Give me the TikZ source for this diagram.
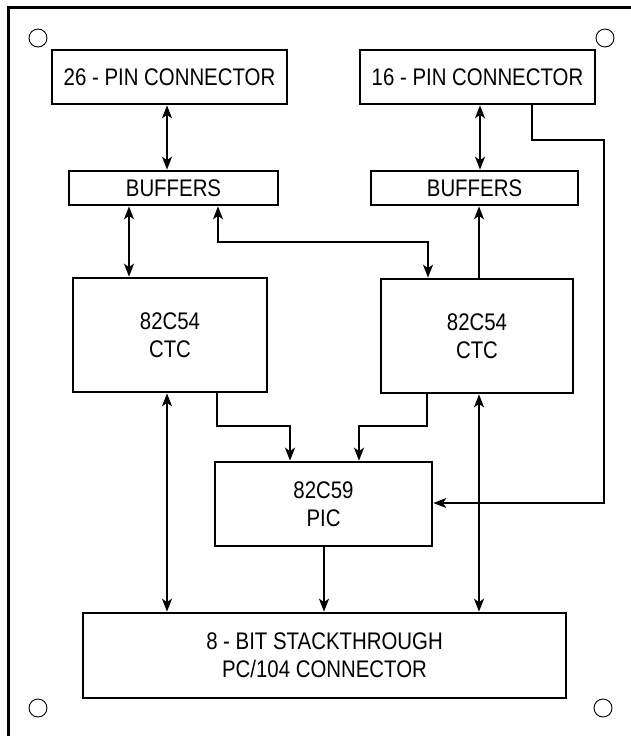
\documentclass[tikz,border=0pt]{standalone}
\usepackage{fontspec}
\usetikzlibrary{arrows.meta}
\newfontfamily\diagfont[FakeStretch=0.85]{Liberation Sans}

\tikzset{
  blk/.style={draw, line width=2.7pt, inner sep=0pt, align=center,
    font=\diagfont\fontsize{24}{28}\selectfont},
  wire/.style={line width=2pt},
  thinwire/.style={line width=1.5pt},
  hole/.style={draw, line width=0.9pt, circle, minimum size=18pt, inner sep=0pt},
  >={Stealth[length=13pt,width=10pt,inset=3.5pt]}
}

\begin{document}
\begin{tikzpicture}[x=1pt, y=-1pt]
  \useasboundingbox (0,0) rectangle (631,736);

  % board outline (only the top and left edges fall inside the frame)
  \draw[line width=3pt] (8,745) -- (8,7) -- (640,7);

  % mounting holes
  \node[hole] (h1) at (38,38) {};
  \node[hole] (h2) at (605,38) {};
  \node[hole] (h3) at (38,708) {};
  \node[hole] (h4) at (603,708) {};

  % blocks
  \node[blk, minimum width=235pt, minimum height=54pt] (pinA) at (169.5,77) {26 - PIN CONNECTOR};
  \node[blk, minimum width=235pt, minimum height=54pt] (pinB) at (477.5,77) {16 - PIN CONNECTOR};
  \node[blk, minimum width=209pt, minimum height=34pt] (bufA) at (173.5,188) {BUFFERS};
  \node[blk, minimum width=207pt, minimum height=34pt] (bufB) at (474.5,188) {BUFFERS};
  \node[blk, minimum width=194pt, minimum height=114pt] (ctcA) at (170,335) {82C54\\CTC};
  \node[blk, minimum width=192pt, minimum height=114pt] (ctcB) at (477,336) {82C54\\CTC};
  \node[blk, minimum width=217pt, minimum height=84pt] (pic) at (323.5,504) {82C59\\PIC};
  \node[blk, minimum width=483pt, minimum height=85pt] (bus) at (324.5,655.5)
    {8 - BIT STACKTHROUGH\\PC/104 CONNECTOR};

  % connector to buffers
  \draw[wire, <->] (167,0 |- pinA.south) -- (167,0 |- bufA.north);
  \draw[wire, <->] (480,0 |- pinB.south) -- (480,0 |- bufB.north);

  % buffers to counters
  \draw[wire, <->] (129,0 |- bufA.south) -- (129,0 |- ctcA.north);
  \draw[wire, <->] (218,0 |- bufA.south) -- (218,242) -- (428,242) -- (428,0 |- ctcB.north);
  \draw[wire, ->] (479,0 |- ctcB.north) -- (479,0 |- bufB.south);

  % counter outputs to interrupt controller
  \draw[wire, ->] (217,0 |- ctcA.south) -- (217,426) -- (290,426) -- (290,0 |- pic.north);
  \draw[wire, ->] (427,0 |- ctcB.south) -- (427,426) -- (359,426) -- (359,0 |- pic.north);
  \draw[thinwire, ->] (532,0 |- pinB.south) -- (532,140) -- (604,140) -- (604,503) -- (pic.east |- 0,503);

  % bus connections
  \draw[wire, <->] (167,0 |- ctcA.south) -- (167,0 |- bus.north);
  \draw[wire, ->] (324,0 |- pic.south) -- (324,0 |- bus.north);
  \draw[wire, <->] (479,0 |- ctcB.south) -- (479,0 |- bus.north);
\end{tikzpicture}
\end{document}
